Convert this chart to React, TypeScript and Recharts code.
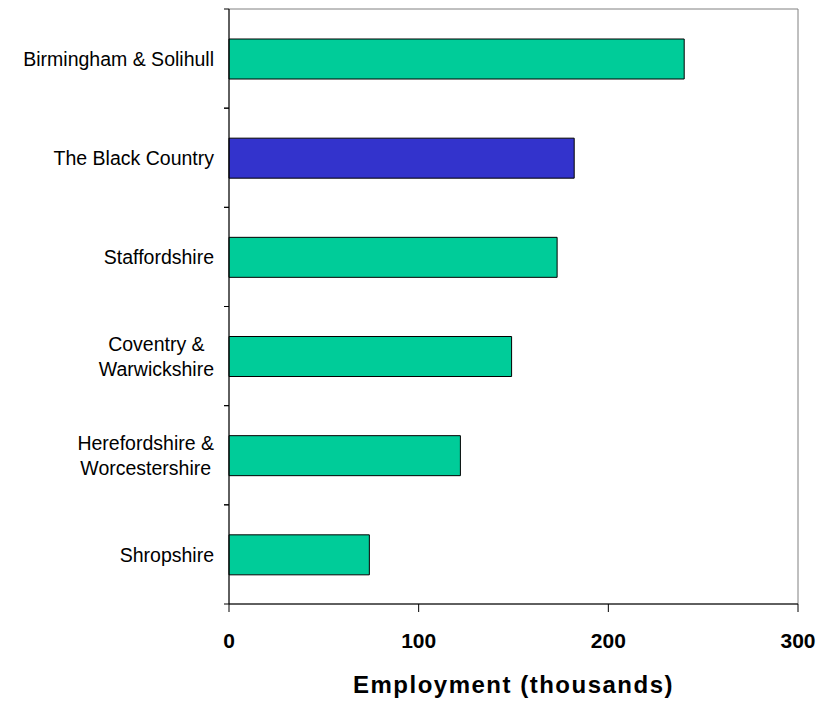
import { BarChart, Bar, XAxis, YAxis, Cell, ReferenceArea } from 'recharts';

// Employment by sub-region (thousands)
const regions = [
  'Birmingham & Solihull',
  'The Black Country',
  'Staffordshire',
  'Coventry & Warwickshire',
  'Herefordshire & Worcestershire',
  'Shropshire',
];
// how each label wraps on the axis
const regionLines = [
  ['Birmingham & Solihull'],
  ['The Black Country'],
  ['Staffordshire'],
  ['Coventry &', 'Warwickshire'],
  ['Herefordshire &', 'Worcestershire'],
  ['Shropshire'],
];
const employment = [240, 182, 173, 149, 122, 74];
const xTicks = [0, 100, 200, 300];
const highlighted = 'The Black Country';

const data = regions.map((region, i) => ({ region, employment: employment[i] }));

const FONT = '"Liberation Sans", Arial, sans-serif';
const W = 829;
const H = 704;
const MARGIN = { top: 9, right: 31, bottom: 0, left: 0 };
const Y_AXIS_W = 229;
const X_AXIS_H = 100;
const BAND = (H - MARGIN.top - MARGIN.bottom - X_AXIS_H) / regions.length;
const LABEL_SIZE = 19.5;

let ctx: CanvasRenderingContext2D | null = null;
function measure(text: string) {
  if (!ctx) ctx = document.createElement('canvas').getContext('2d');
  if (!ctx) return text.length * LABEL_SIZE * 0.5;
  ctx.font = `${LABEL_SIZE}px ${FONT}`;
  return ctx.measureText(text).width;
}

function RegionTick(props: any) {
  const { x, y, payload } = props;
  const idx = regions.indexOf(payload.value);
  const lines = regionLines[idx] ?? [String(payload.value)];
  const maxW = Math.max(...lines.map(measure));
  const axisX = x + 15;
  const half = BAND / 2;
  return (
    <g>
      {/* tick marks sit on the band boundaries */}
      <line x1={axisX - 5} x2={axisX} y1={y - half} y2={y - half} stroke="#000" />
      <line x1={axisX - 5} x2={axisX} y1={y + half} y2={y + half} stroke="#000" />
      {lines.map((line, i) => (
        <text
          key={i}
          x={lines.length > 1 ? x - maxW / 2 : x}
          y={y + 0.37 * LABEL_SIZE + (i - (lines.length - 1) / 2) * 25}
          textAnchor={lines.length > 1 ? 'middle' : 'end'}
          fontFamily={FONT}
          fontSize={LABEL_SIZE}
          fill="#000"
        >
          {line}
        </text>
      ))}
    </g>
  );
}

export default function App() {
  return (
    <div style={{ position: 'absolute', left: 0, top: 0, width: W, height: H, background: '#fff' }}>
      <BarChart width={W} height={H} data={data} layout="vertical" margin={MARGIN}>
        <ReferenceArea x1={0} x2={300} fill="none" fillOpacity={0} stroke="#808080" strokeWidth={1} />
        <XAxis
          type="number"
          domain={[0, 300]}
          ticks={xTicks}
          height={X_AXIS_H}
          tickSize={8}
          tickMargin={21}
          axisLine={{ stroke: '#000' }}
          tickLine={{ stroke: '#000' }}
          tick={{ fill: '#000', fontSize: 21, fontWeight: 'bold', fontFamily: FONT }}
          label={{
            value: 'Employment (thousands)',
            position: 'insideBottom',
            offset: 11,
            style: { fill: '#000', fontSize: 24, fontWeight: 'bold', fontFamily: FONT, letterSpacing: 1.5 },
          }}
        />
        <YAxis
          type="category"
          dataKey="region"
          width={Y_AXIS_W}
          interval={0}
          tickSize={0}
          tickMargin={15}
          tickLine={false}
          axisLine={{ stroke: '#000' }}
          tick={<RegionTick />}
        />
        <Bar dataKey="employment" barSize={40} stroke="#000" strokeWidth={1} isAnimationActive={false}>
          {data.map((d) => (
            <Cell key={d.region} fill={d.region === highlighted ? '#3333CC' : '#00CC99'} />
          ))}
        </Bar>
      </BarChart>
    </div>
  );
}
